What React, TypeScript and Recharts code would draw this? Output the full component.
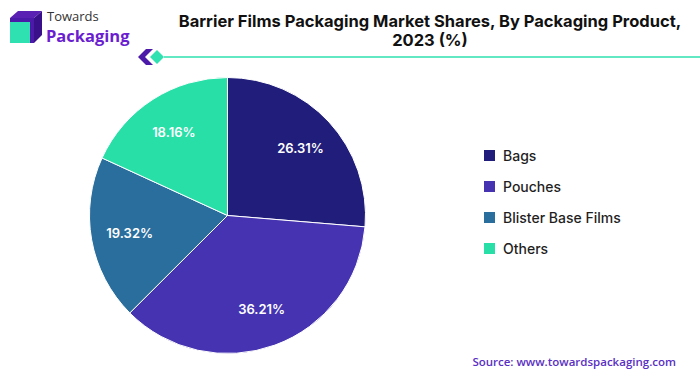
import React from "react";
import { PieChart, Pie, Cell, Legend } from "recharts";

const categories = ["Bags", "Pouches", "Blister Base Films", "Others"];
const shares = [26.31, 36.21, 19.32, 18.16];
const colors = ["#211e7b", "#4533b2", "#2a6e9d", "#28dfa8"];

const data = categories.map((name, i) => ({ name, value: shares[i] }));

const RAD = Math.PI / 180;
const renderLabel = (props: any) => {
  const { cx, cy, midAngle, outerRadius, value } = props;
  const r = outerRadius * 0.72;
  const x = cx + r * Math.cos(-midAngle * RAD);
  const y = cy + r * Math.sin(-midAngle * RAD);
  return (
    <text
      x={x}
      y={y}
      fill="#ffffff"
      textAnchor="middle"
      dominantBaseline="central"
      style={{ fontFamily: "Inter, sans-serif", fontSize: 13, fontWeight: 600 }}
    >
      {value.toFixed(2)}%
    </text>
  );
};

const LegendContent = () => (
  <div style={{ fontFamily: "Inter, sans-serif" }}>
    {categories.map((c, i) => (
      <div key={c} style={{ display: "flex", alignItems: "center", height: 31 }}>
        <div style={{ width: 11, height: 11, background: colors[i], marginRight: 8 }} />
        <span style={{ fontSize: 14, fontWeight: 500, color: "#1f1f1f" }}>{c}</span>
      </div>
    ))}
  </div>
);

export default function App() {
  return (
    <div style={{ position: "absolute", left: 0, top: 0, width: 700, height: 376, background: "#fff", overflow: "hidden" }}>
      {/* Logo */}
      <svg width="40" height="40" style={{ position: "absolute", left: 6, top: 8 }}>
        <polygon points="4,10 12,3 36,3 28,10" fill="#5a1fb3" />
        <polygon points="28,10 36,3 36,27 28,35" fill="#3a0f8a" />
        <rect x="4" y="10" width="24" height="25" fill="#4b1aa8" />
        <rect x="4" y="14" width="20" height="21" fill="#2fe0b0" />
      </svg>
      <div style={{ position: "absolute", left: 47, top: 9, fontFamily: "'Open Sans', sans-serif", fontSize: 13, color: "#333", lineHeight: "14px" }}>Towards</div>
      <div style={{ position: "absolute", left: 46, top: 26, fontFamily: "'Open Sans', sans-serif", fontSize: 16.5, fontWeight: 700, color: "#6a1ed0", lineHeight: "19px" }}>Packaging</div>

      {/* Title */}
      <div style={{ position: "absolute", left: 160, width: 540, top: 12, textAlign: "center", fontFamily: "Inter, sans-serif", fontSize: 16.5, fontWeight: 700, color: "#111", lineHeight: "19px" }}>
        Barrier Films Packaging Market Shares, By Packaging Product,
        <br />
        2023 (%)
      </div>

      {/* Decorative line */}
      <svg width="700" height="20" style={{ position: "absolute", left: 0, top: 47 }}>
        <polygon points="146,2 153,2 145,10 153,18 146,18 138,10" fill="#4b1aa8" />
        <polygon points="157,3 164,10 157,17 150,10" fill="#2fe0b0" />
        <line x1="164" y1="10" x2="700" y2="10" stroke="#2fe0b0" strokeWidth="1.5" />
      </svg>

      <div style={{ position: "absolute", left: 0, top: 0 }}>
        <PieChart width={700} height={376}>
          <Pie
            data={data}
            dataKey="value"
            nameKey="name"
            cx={222.5}
            cy={210.5}
            outerRadius={138}
            startAngle={90}
            endAngle={-270}
            stroke="#ffffff"
            strokeWidth={1}
            label={renderLabel}
            labelLine={false}
            isAnimationActive={false}
          >
            {data.map((d, i) => (
              <Cell key={d.name} fill={colors[i]} />
            ))}
          </Pie>
          <Legend
            layout="vertical"
            align="right"
            verticalAlign="top"
            content={<LegendContent />}
            wrapperStyle={{ left: 484, top: 140, width: 200 }}
          />
        </PieChart>
      </div>

      {/* Source */}
      <div style={{ position: "absolute", right: 24, top: 354, fontFamily: "'Open Sans', sans-serif", fontSize: 11.5, fontWeight: 600, color: "#5a2fc4" }}>
        Source: www.towardspackaging.com
      </div>
    </div>
  );
}
